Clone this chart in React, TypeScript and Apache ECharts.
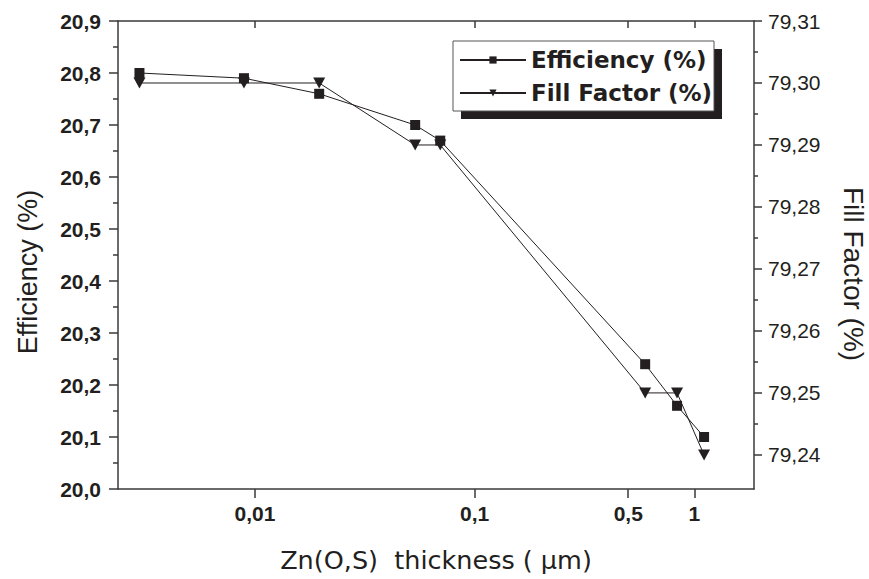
import React, { useEffect, useRef } from "react";
import * as echarts from "echarts";

// Zn(O,S) thickness (µm)
const thicknessUm = [0.00298, 0.00891, 0.0196, 0.0536, 0.0697, 0.597, 0.834, 1.107];
// Efficiency (%) — left axis
const efficiency = [20.8, 20.79, 20.76, 20.7, 20.67, 20.24, 20.16, 20.1];
// Fill Factor (%) — right axis
const fillFactor = [79.3, 79.3, 79.3, 79.29, 79.29, 79.25, 79.25, 79.24];

const xTickValues = [0.01, 0.1, 0.5, 1];
const xTickLabels = ["0,01", "0,1", "0,5", "1"];
const ffMajorTicks = [79.24, 79.25, 79.26, 79.27, 79.28, 79.29, 79.3, 79.31];
const ffMinorTicks = [79.245, 79.255, 79.265, 79.275, 79.285, 79.295, 79.305];

const seriesNames = ["Efficiency (%)", "Fill Factor (%)"];

const INK = "#231f20";
const AXIS = "#3a3a3a";

export default function App() {
  const ref = useRef<HTMLDivElement>(null);
  useEffect(() => {
    const chart = echarts.init(ref.current!, null, { renderer: "svg" });
    const xMin = Math.log10(0.00238);
    const xMax = Math.log10(1.868);
    const xTickPos = xTickValues.map((v) => Math.log10(v));
    const xFmt = (v: number) => {
      const i = xTickPos.findIndex((p) => Math.abs(p - v) < 1e-6);
      return i >= 0 ? xTickLabels[i] : "";
    };
    const axisLineStyle = { color: AXIS, width: 1.5 };
    const option: any = {
      animation: false,
      backgroundColor: "#fff",
      grid: { left: 118, right: 115, top: 21, bottom: 90, containLabel: false },
      xAxis: [
        {
          type: "value",
          position: "bottom",
          min: xMin,
          max: xMax,
          axisLine: { show: true, onZero: false, lineStyle: axisLineStyle },
          axisTick: { show: true, customValues: xTickPos, length: 9, lineStyle: axisLineStyle },
          axisLabel: {
            customValues: xTickPos,
            formatter: xFmt,
            fontFamily: "Liberation Sans",
            fontWeight: "bold",
            fontSize: 21,
            color: INK,
            margin: 14,
          },
          splitLine: { show: false },
          name: "Zn(O,S)  thickness ( \u03bcm)",
          nameLocation: "middle",
          nameGap: 58,
          nameTextStyle: { fontFamily: "DejaVu Sans", fontSize: 25.5, color: INK },
        },
        {
          type: "value",
          position: "top",
          min: xMin,
          max: xMax,
          axisLine: { show: true, onZero: false, lineStyle: axisLineStyle },
          axisTick: { show: true, inside: true, customValues: xTickPos, length: 7, lineStyle: axisLineStyle },
          axisLabel: { show: false },
          splitLine: { show: false },
        },
      ],
      yAxis: [
        {
          type: "value",
          position: "left",
          min: 20.0,
          max: 20.9,
          interval: 0.1,
          axisLine: { show: true, onZero: false, lineStyle: axisLineStyle },
          axisTick: { show: true, length: 9, lineStyle: axisLineStyle },
          minorTick: { show: true, splitNumber: 2, length: 5, lineStyle: axisLineStyle },
          axisLabel: {
            formatter: (v: number) => v.toFixed(1).replace(".", ","),
            fontFamily: "Liberation Sans",
            fontWeight: "bold",
            fontSize: 21,
            color: INK,
            margin: 17,
          },
          splitLine: { show: false },
        },
        {
          type: "value",
          position: "right",
          min: 79.2345,
          max: 79.31,
          axisLine: { show: true, onZero: false, lineStyle: axisLineStyle },
          axisTick: { show: true, customValues: ffMajorTicks, length: 8, lineStyle: axisLineStyle },
          axisLabel: {
            customValues: ffMajorTicks,
            formatter: (v: number) => v.toFixed(2).replace(".", ","),
            fontFamily: "Liberation Sans",
            fontSize: 21,
            color: INK,
            margin: 14,
          },
          splitLine: { show: false },
        },
        {
          type: "value",
          position: "right",
          min: 79.2345,
          max: 79.31,
          axisLine: { show: false, onZero: false },
          axisTick: { show: true, customValues: ffMinorTicks, length: 4, lineStyle: axisLineStyle },
          axisLabel: { show: false },
          splitLine: { show: false },
        },
      ],
      legend: {
        orient: "vertical",
        left: 454,
        top: 43,
        itemWidth: 66,
        itemHeight: 9,
        itemGap: 9,
        z: 10,
        data: seriesNames,
        textStyle: {
          fontFamily: "DejaVu Sans",
          fontWeight: "bold",
          fontSize: 23,
          lineHeight: 24,
          color: INK,
        },
      },
      graphic: [
        {
          type: "rect",
          z: 5,
          shape: { x: 461, y: 49, width: 261, height: 70 },
          style: { fill: INK },
        },
        {
          type: "rect",
          z: 6,
          shape: { x: 453, y: 41, width: 261, height: 70 },
          style: { fill: "#fff", stroke: "#555", lineWidth: 1 },
        },
        {
          type: "text",
          x: 28,
          y: 272,
          rotation: Math.PI / 2,
          style: {
            text: "Efficiency (%)",
            fontFamily: "Liberation Sans",
            fontSize: 27,
            fill: INK,
            align: "center",
            verticalAlign: "middle",
          },
        },
        {
          type: "text",
          x: 853,
          y: 274,
          rotation: -Math.PI / 2,
          style: {
            text: "Fill Factor (%)",
            fontFamily: "Liberation Sans",
            fontSize: 28,
            fill: INK,
            align: "center",
            verticalAlign: "middle",
          },
        },
      ],
      series: [
        {
          name: seriesNames[0],
          type: "line",
          xAxisIndex: 0,
          yAxisIndex: 0,
          data: thicknessUm.map((t, i) => [Math.log10(t), efficiency[i]]),
          symbol: "rect",
          symbolSize: 10,
          lineStyle: { color: INK, width: 1 },
          itemStyle: { color: INK },
          z: 3,
        },
        {
          name: seriesNames[1],
          type: "line",
          xAxisIndex: 0,
          yAxisIndex: 1,
          data: thicknessUm.map((t, i) => [Math.log10(t), fillFactor[i]]),
          symbol: "triangle",
          symbolRotate: 180,
          symbolSize: [12, 11],
          lineStyle: { color: INK, width: 1 },
          itemStyle: { color: INK },
          z: 3,
        },
      ],
    };
    chart.setOption(option);
    return () => chart.dispose();
  }, []);
  return (
    <div
      ref={ref}
      style={{ position: "fixed", left: 0, top: 0, width: 869, height: 579, background: "#fff" }}
    />
  );
}
